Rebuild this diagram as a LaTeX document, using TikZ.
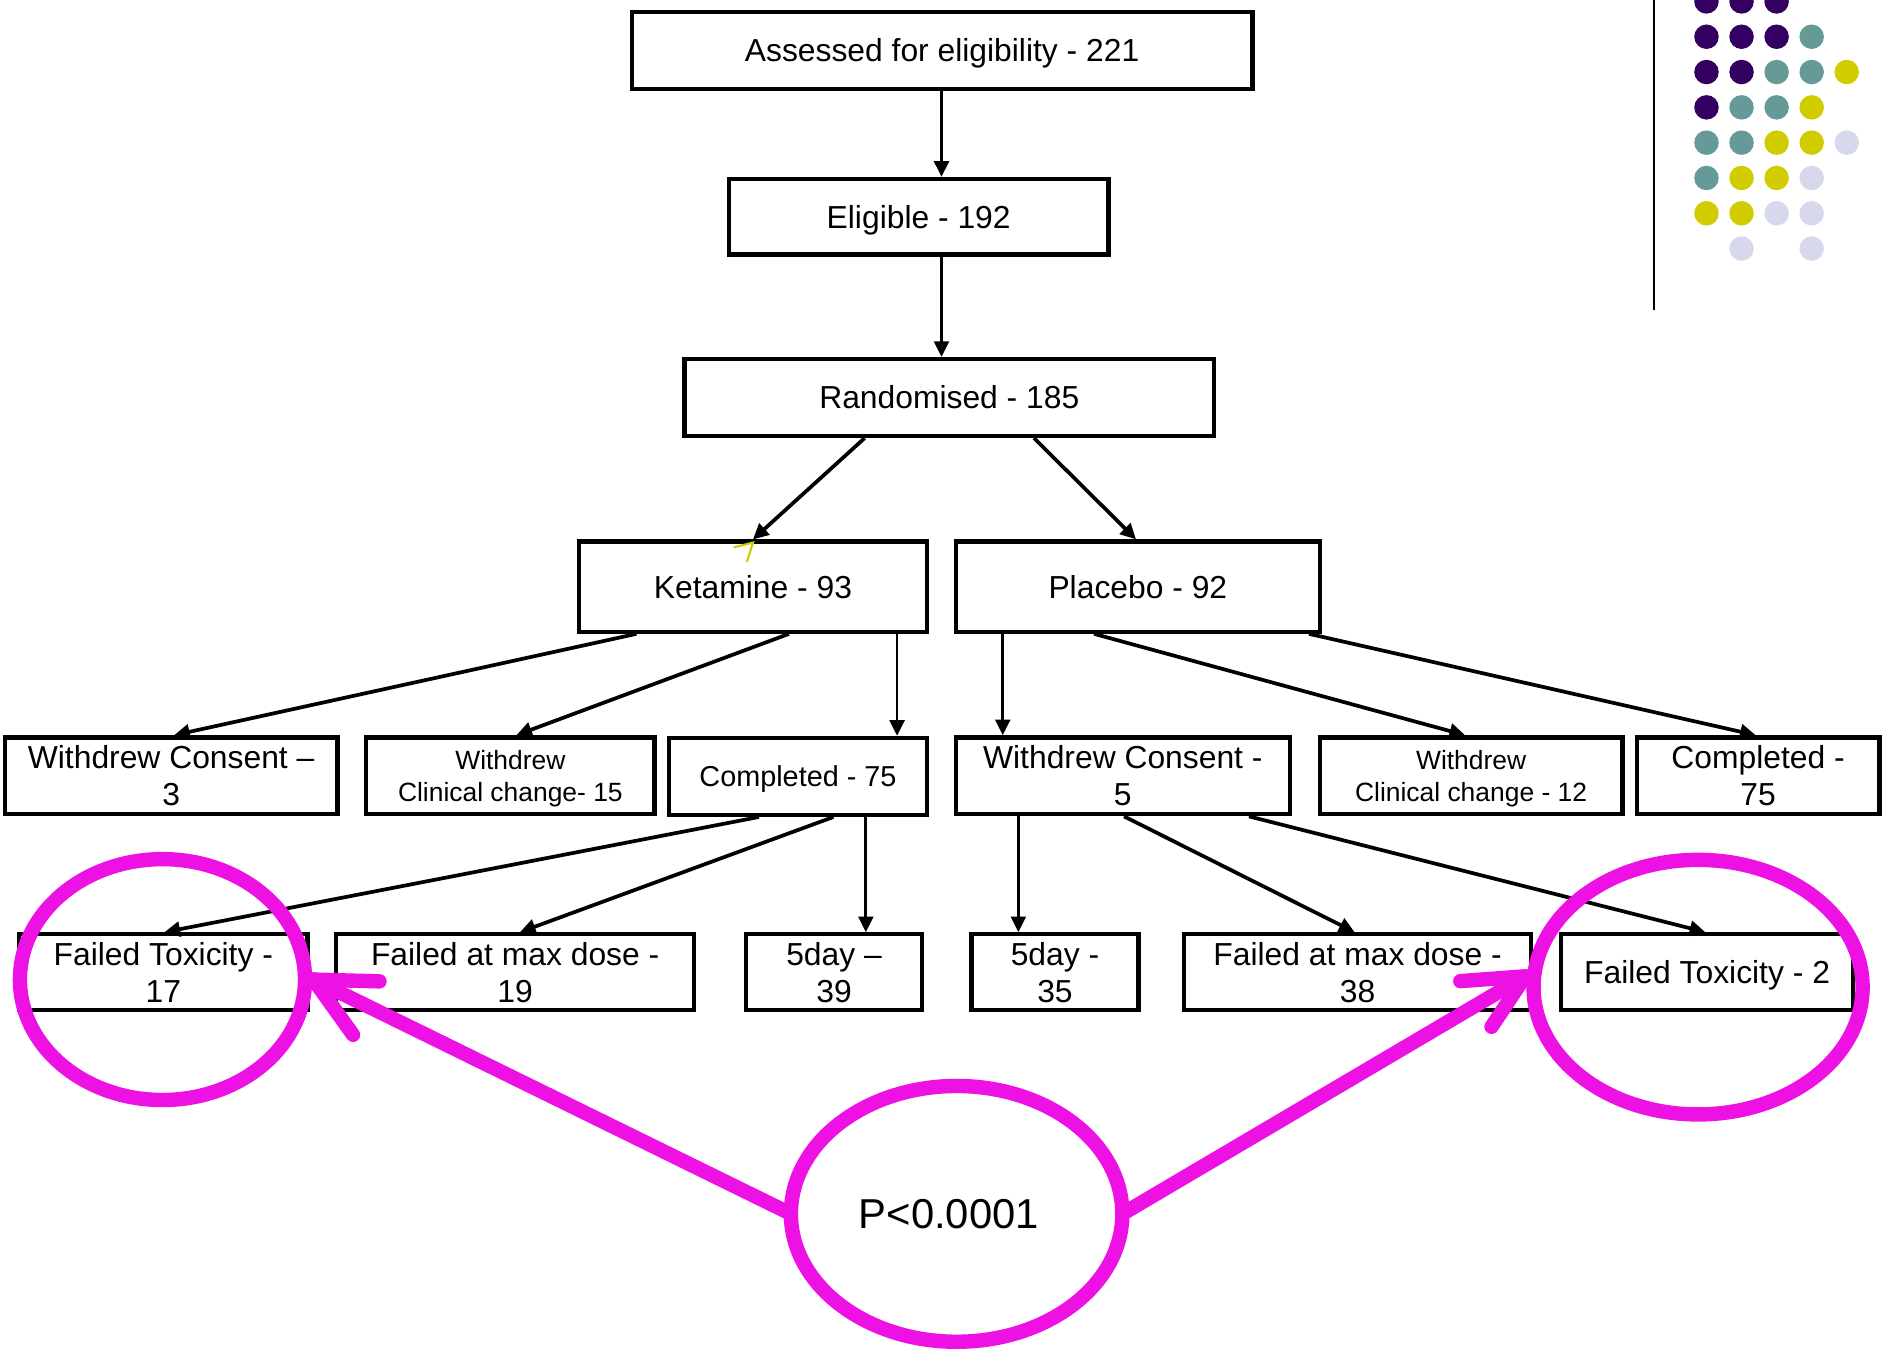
\documentclass[tikz,border=0pt]{standalone}
\usepackage{fontspec}
\setmainfont{Liberation Sans}
\usetikzlibrary{arrows.meta,shapes.geometric,calc}
\definecolor{mag}{RGB}{238,17,228}
\definecolor{dP}{RGB}{51,0,98}
\definecolor{dT}{RGB}{102,154,153}
\definecolor{dY}{RGB}{208,204,0}
\definecolor{dL}{RGB}{216,216,236}
\begin{document}
\begin{tikzpicture}[x=0.5pt,y=-0.5pt,
  box/.style={draw, line width=1.8pt, inner sep=0pt, align=center,
    font=\fontsize{13.25pt}{15.5pt}\selectfont, text depth=0pt},
  one/.style={text height=9.5pt},
  small/.style={font=\fontsize{11pt}{13.5pt}\selectfont},
  conn/.style={-{Triangle[length=6.5pt,width=6.2pt]}, line width=1.15pt},
  dconn/.style={conn, line width=1.55pt},
  ring/.style={draw=mag, line width=6pt, ellipse, inner sep=0pt, outer sep=0pt},
  mline/.style={draw=mag, line width=6pt, line cap=round},
]
\useasboundingbox (0,0) rectangle (1568,1128);

% decoration top right
\draw[line width=0.85pt] (1377.3,0) -- (1377.3,258);
\foreach \r/\c/\col in {0/0/dP,0/1/dP,0/2/dP,
  1/0/dP,1/1/dP,1/2/dP,1/3/dT,
  2/0/dP,2/1/dP,2/2/dT,2/3/dT,2/4/dY,
  3/0/dP,3/1/dT,3/2/dT,3/3/dY,
  4/0/dT,4/1/dT,4/2/dY,4/3/dY,4/4/dL,
  5/0/dT,5/1/dY,5/2/dY,5/3/dL,
  6/0/dY,6/1/dY,6/2/dL,6/3/dL,
  7/1/dL,7/3/dL}
  \fill[\col] ({1421+\c*29.2},{1.2+\r*29.4}) circle[radius=5.1pt];

% boxes
\node[box,one,minimum width=258.5pt,minimum height=32pt] (ass) at (784.5,42) {Assessed for eligibility - 221};
\node[box,one,minimum width=158pt,minimum height=31.5pt] (eli) at (765,180.5) {Eligible - 192};
\node[box,one,minimum width=220.5pt,minimum height=32pt] (ran) at (790.5,331) {Randomised - 185};
\node[box,one,minimum width=145pt,minimum height=37.5pt] (ket) at (627,488.5) {Ketamine - 93};
\node[box,one,minimum width=151.5pt,minimum height=37.5pt] (pla) at (947.5,488.5) {Placebo - 92};

\node[box,minimum width=138.5pt,minimum height=32pt] (wca) at (142.5,646) {Withdrew Consent –\\3};
\node[box,small,minimum width=120pt,minimum height=32pt] (wcka) at (425,646) {Withdrew\\Clinical change- 15};
\node[box,font=\fontsize{12pt}{14pt}\selectfont,text height=8.6pt,minimum width=107.5pt,minimum height=32pt] (coa) at (664.5,646.5) {Completed - 75};
\node[box,minimum width=139pt,minimum height=32pt] (wcb) at (935,646) {Withdrew Consent -\\5};
\node[box,small,minimum width=126pt,minimum height=32pt] (wckb) at (1225,646) {Withdrew\\Clinical change - 12};
\node[box,minimum width=101pt,minimum height=32pt] (cob) at (1464,646) {Completed -\\75};

\node[box,minimum width=120pt,minimum height=31.5pt] (fta) at (136,809.5) {Failed Toxicity -\\17};
\node[box,minimum width=149pt,minimum height=31.5pt] (fma) at (429,809.5) {Failed at max dose -\\19};
\node[box,minimum width=73.5pt,minimum height=31.5pt] (dya) at (694.5,809.5) {5day –\\39};
\node[box,minimum width=69.5pt,minimum height=31.5pt] (dyb) at (878.5,809.5) {5day -\\35};
\node[box,minimum width=144.5pt,minimum height=31.5pt] (fmb) at (1130.5,809.5) {Failed at max dose -\\38};
\node[box,one,minimum width=121.5pt,minimum height=31.5pt] (ftb) at (1421.5,809.5) {Failed Toxicity - 2};

% connectors
\draw[conn] ($(ass.south)+(-0.5,0)$) -- ($(eli.north)+(19,0)$);
\draw[conn] ($(eli.south)+(19,0)$) -- ($(ran.north)+(-6.5,0)$);
\draw[dconn] ($(ran.south)+(-70.5,0)$) -- (ket.north);
\draw[dconn] ($(ran.south)+(70.5,0)$) -- ($(pla.north)+(-1.5,0)$);

\draw[dconn] ($(ket.south)+(-97,0)$) -- ($(wca.north)+(2.5,0)$);
\draw[dconn] ($(ket.south)+(30,0)$) -- ($(wcka.north)+(5,0)$);
\draw[conn] ($(ket.south)+(120,0)$) -- ($(coa.north)+(82.5,0)$);

\draw[conn] ($(pla.south)+(-112.5,0)$) -- ($(wcb.north)+(-100,0)$);
\draw[dconn] ($(pla.south)+(-36.5,0)$) -- ($(wckb.north)+(-5,0)$);
\draw[dconn] ($(pla.south)+(142.5,0)$) -- ($(cob.north)+(-2,0)$);

\draw[dconn] ($(coa.south)+(-32.5,0)$) -- ($(fta.north)+(1,0)$);
\draw[dconn] ($(coa.south)+(29.5,0)$) -- ($(fma.north)+(4,0)$);
\draw[conn] ($(coa.south)+(56.5,0)$) -- ($(dya.north)+(26.5,0)$);

\draw[conn] ($(wcb.south)+(-87,0)$) -- ($(dyb.north)+(-30.5,0)$);
\draw[dconn] ($(wcb.south)+(1,0)$) -- ($(fmb.north)+(-2.5,0)$);
\draw[dconn] ($(wcb.south)+(105,0)$) -- ($(ftb.north)+(-1.5,0)$);

% stray yellow mark
\draw[dY, line width=0.9pt] ($(ket.north)+(-16,6.6)$) -- ($(ket.north)+(0,2.6)$) -- ($(ket.north)+(-5,18.6)$);

% magenta annotation
\node[ring, minimum width=118.7pt, minimum height=100.3pt] (lring) at (135.3,815.7) {};
\node[ring, minimum width=137pt, minimum height=106pt] (rring) at (1414,822) {};
\node[ring, minimum width=138pt, minimum height=106.5pt, text=black,
  font=\fontsize{17.4pt}{20pt}\selectfont, text depth=0pt] (pv) at (796.6,1010.8) {P<0.0001\hspace*{6.5pt}};
\coordinate (ltip) at ($(lring.east)+(7,0)$);
\coordinate (rtip) at ($(rring.west)+(-7,-9)$);
\draw[mline] (pv.west) -- (ltip);
\draw[mline] (ltip) -- ++(55,1.5);
\draw[mline] (ltip) -- ++(33,46);
\draw[mline] (pv.east) -- (rtip);
\draw[mline] (rtip) -- ++(-54,4);
\draw[mline] (rtip) -- ++(-28,42);
\end{tikzpicture}
\end{document}
